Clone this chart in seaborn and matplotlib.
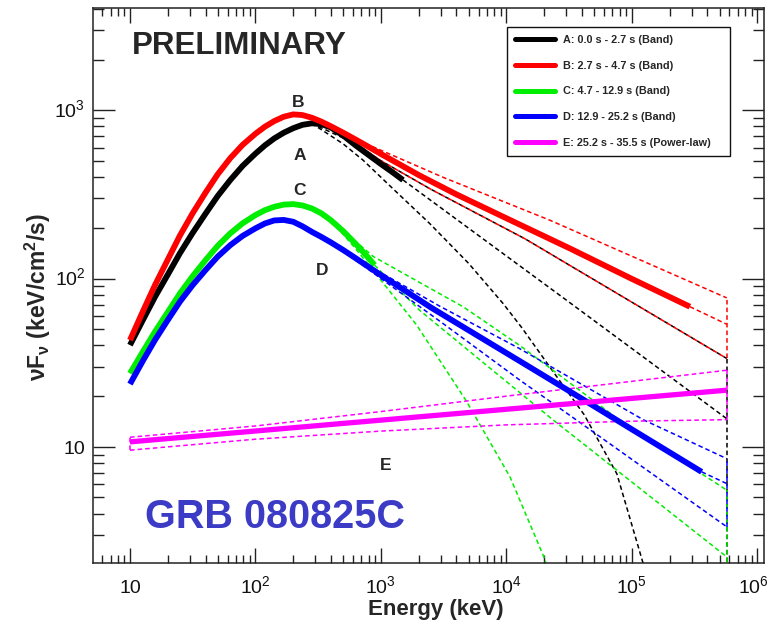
import matplotlib
matplotlib.use("Agg")
import matplotlib.pyplot as plt
import matplotlib.transforms as mtransforms
from matplotlib.lines import Line2D
from matplotlib.ticker import LogLocator, NullFormatter, FixedLocator
import pandas as pd
import seaborn as sns

# ---------------------------------------------------------------------------
# GRB 080825C time-resolved nuFnu spectra (energy in keV, flux in keV/cm^2/s)
# ---------------------------------------------------------------------------
# A: 0.0 s - 2.7 s (Band)
A_energy = [10, 12.6, 15.8, 20, 25, 31.6, 40, 50, 63, 79, 100, 119, 141, 168,
            200, 237, 282, 335, 398, 501, 631, 794, 1000, 1230, 1500]
A_flux = [40.2, 56.2, 77.6, 105.4, 141.3, 186.6, 242.7, 309, 384.6, 466.7,
          552, 618, 679, 734.5, 781.6, 818.5, 835.6, 826, 790.7, 706.3, 616.6,
          543.3, 478.6, 429.5, 384.6]

# B: 2.7 s - 4.7 s (Band)
B_energy = [10, 12.6, 15.8, 20, 25, 31.6, 40, 50, 63, 79, 100, 119, 141, 168,
            200, 237, 282, 335, 398, 501, 631, 794, 1000, 2000, 4000, 1e4,
            3.2e4, 1e5, 2.9e5]
B_flux = [43.05, 63.2, 91.2, 129.4, 179.9, 244.3, 323.6, 415.9, 518.8, 622.3,
          724.4, 798, 861, 914.1, 944.1, 935.4, 901.6, 855.1, 803.5, 734.5,
          668.3, 606.7, 549.5, 412, 316, 228, 151, 99.5, 68]

# C: 4.7 - 12.9 s (Band)
C_energy = [10, 12.6, 15.8, 20, 25, 31.6, 40, 50, 63, 79, 100, 119, 141, 168,
            200, 237, 282, 335, 398, 501, 631, 750, 890]
C_flux = [27.3, 36.5, 48.2, 63.1, 81.5, 103.3, 128.5, 156.3, 185.4, 212.8,
          238.2, 254.7, 266.7, 274.8, 276.7, 271.6, 260.6, 243.8, 222.3, 191,
          160.3, 139.3, 120.2]

# D: 12.9 - 25.2 s (Band)
D_energy = [10, 12.6, 15.8, 20, 25, 31.6, 40, 50, 63, 79, 100, 119, 141, 168,
            200, 237, 282, 335, 398, 501, 631, 794, 1000, 1600, 2500, 6300,
            1.6e4, 4e4, 1e5, 3.6e5]
D_flux = [23.6, 32.2, 43.05, 56.6, 72.8, 91.4, 112.2, 134.9, 157.8, 179.1,
          198.6, 212.3, 221.3, 222.8, 217.3, 204.2, 189.2, 176.6, 164.1, 147.6,
          131.8, 117.5, 104.7, 83.6, 67.3, 44.4, 29.2, 19.3, 12.7, 7.1]

# E: 25.2 s - 35.5 s (Power-law)
E_energy = [10, 5.7e5]
E_flux = [10.7, 21.7]

# Model extrapolations and 1-sigma contours (dashed)
A_ext_energy = [1500, 3.16e4, 5.7e5]
A_ext_flux = [385, 72.4, 14.7]
A_hi_energy = [280, 630, 1000, 2500, 1.41e4, 5.7e5]
A_hi_flux = [836, 631, 501, 339, 172, 33.5]
A_lo_energy = [280, 500, 720, 1260, 2450, 5000, 9400, 1.32e4, 2.24e4,
               4.17e4, 7.59e4, 1.23e5, 1.35e5]
A_lo_flux = [836, 631, 505, 339, 212, 123, 71.1, 51.3, 29.5, 15.5, 6.92,
             2.03, 1.41]

B_ext_energy = [2.9e5, 5.7e5]
B_ext_flux = [68, 53.5]
B_hi_energy = [400, 710, 3160, 2.22e4, 5.7e5]
B_hi_flux = [804, 646, 398, 222, 76.7]
B_lo_energy = [400, 1000, 2500, 1.41e4, 5.7e5]
B_lo_flux = [804, 501, 339, 172, 33.5]

C_ext_energy = [890, 2040, 2.34e4, 5.7e5]
C_ext_flux = [120, 64.6, 14.5, 2.22]
C_hi_energy = [400, 870, 4570, 1.29e4, 7.59e4, 5.7e5]
C_hi_flux = [222, 135, 67.6, 39.8, 14.8, 5.53]
C_lo_energy = [400, 630, 1000, 1920, 4820, 1.07e4, 2.03e4, 2.24e4]
C_lo_flux = [222, 150, 97.7, 53.1, 18.6, 6.61, 2.14, 1.58]

D_ext_energy = [3.6e5, 5.7e5]
D_ext_flux = [7.1, 6.05]
D_hi_energy = [400, 720, 2950, 1.26e4, 1.23e5, 5.7e5]
D_hi_flux = [164, 124.5, 68.4, 38.5, 14.5, 8.51]
D_lo_energy = [400, 1000, 3160, 1.28e4, 3.63e4, 5.7e5]
D_lo_flux = [164, 100, 53.7, 24.9, 14.4, 3.35]

E_hi_energy = [10, 100, 1000, 1e4, 1e5, 5.7e5]
E_hi_flux = [11.4, 13.3, 16.2, 20.0, 24.5, 28.5]
E_lo_energy = [10, 100, 1000, 1e4, 1e5, 5.7e5]
E_lo_flux = [9.55, 11.1, 12.4, 13.5, 14.2, 14.5]

# Closing edges of the contours at the extrapolation limit
edge_energy = 5.7e5
A_edge_flux = [1.5, 33.5]
C_edge_flux = [1.5, 5.53]
D_edge_flux = [3.35, 8.51]
B_edge_flux = [33.5, 76.7]
E_edge_flux = [14.5, 28.5]
E_start_edge = [9.55, 11.4]

legend_labels = ["A: 0.0 s - 2.7 s (Band)", "B: 2.7 s - 4.7 s (Band)",
                 "C: 4.7 - 12.9 s (Band)", "D: 12.9 - 25.2 s (Band)",
                 "E: 25.2 s - 35.5 s (Power-law)"]
colors = {"A": "#000000", "B": "#ff0000", "C": "#00ee00", "D": "#0000ff",
          "E": "#ff00ff"}

x_ticks = [10, 1e2, 1e3, 1e4, 1e5, 1e6]
x_tick_labels = ["10", r"10$^{2}$", r"10$^{3}$", r"10$^{4}$", r"10$^{5}$",
                 r"10$^{6}$"]
y_ticks = [10, 1e2, 1e3]
y_tick_labels = ["10", r"10$^{2}$", r"10$^{3}$"]

# ---------------------------------------------------------------------------
sns.set_theme(style="ticks")
plt.rcParams["font.family"] = ["Liberation Sans", "DejaVu Sans"]
plt.rcParams["mathtext.fontset"] = "custom"
plt.rcParams["mathtext.rm"] = "Liberation Sans"
plt.rcParams["mathtext.it"] = "Liberation Sans:italic"
plt.rcParams["mathtext.bf"] = "Liberation Sans:bold"

fig = plt.figure(figsize=(7.71, 6.29), dpi=100)
ax = fig.add_axes([0.121, 0.1049, 0.8699, 0.8819])
ax.set_xscale("log")
ax.set_yscale("log")

DASH = (0, (3, 2))


def curve(energy, flux, color, lw, style="-"):
    df = pd.DataFrame({"Energy": energy, "Flux": flux})
    sns.lineplot(data=df, x="Energy", y="Flux", ax=ax, color=color, lw=lw,
                 linestyle=style, sort=False, estimator=None,
                 solid_capstyle="butt", dash_capstyle="butt",
                 solid_joinstyle="round")


def edge(energy, flux_pair, color):
    curve([energy, energy], flux_pair, color, 1.1, DASH)


# dashed contours
edge(edge_energy, A_edge_flux, colors["A"])
edge(edge_energy, C_edge_flux, colors["C"])
edge(edge_energy, D_edge_flux, colors["D"])
edge(edge_energy, B_edge_flux, colors["B"])
edge(edge_energy, E_edge_flux, colors["E"])
edge(10, E_start_edge, colors["E"])

for key, lines in {
    "A": [(A_ext_energy, A_ext_flux), (A_hi_energy, A_hi_flux),
          (A_lo_energy, A_lo_flux)],
    "C": [(C_ext_energy, C_ext_flux), (C_hi_energy, C_hi_flux),
          (C_lo_energy, C_lo_flux)],
    "D": [(D_ext_energy, D_ext_flux), (D_hi_energy, D_hi_flux),
          (D_lo_energy, D_lo_flux)],
    "B": [(B_ext_energy, B_ext_flux), (B_hi_energy, B_hi_flux),
          (B_lo_energy, B_lo_flux)],
    "E": [(E_hi_energy, E_hi_flux), (E_lo_energy, E_lo_flux)],
}.items():
    for en, fl in lines:
        curve(en, fl, colors[key], 1.1, DASH)

# best-fit spectra
curve(A_energy, A_flux, colors["A"], 4.2)
curve(C_energy, C_flux, colors["C"], 4.2)
curve(D_energy, D_flux, colors["D"], 4.2)
curve(B_energy, B_flux, colors["B"], 4.2)
curve(E_energy, E_flux, colors["E"], 3.8)

ax.set_xlim(5.1, 1.13e6)
ax.set_ylim(2.04, 4030)

# axes frame and ticks
for sp in ax.spines.values():
    sp.set_linewidth(1.1)
    sp.set_color("#222222")
    sp.set_visible(True)
ax.xaxis.set_major_locator(FixedLocator(x_ticks))
ax.yaxis.set_major_locator(FixedLocator(y_ticks))
ax.xaxis.set_minor_locator(LogLocator(base=10, subs=range(2, 10), numticks=20))
ax.yaxis.set_minor_locator(LogLocator(base=10, subs=range(2, 10), numticks=20))
ax.xaxis.set_major_formatter(NullFormatter())
ax.xaxis.set_minor_formatter(NullFormatter())
ax.yaxis.set_major_formatter(NullFormatter())
ax.yaxis.set_minor_formatter(NullFormatter())
ax.tick_params(which="both", direction="in", top=True, right=True,
               color="#222222", width=1.0)
ax.tick_params(axis="x", which="major", length=11)
ax.tick_params(axis="x", which="minor", length=6)
ax.tick_params(axis="y", which="major", length=15.5)
ax.tick_params(axis="y", which="minor", length=8)

# tick labels placed on a common baseline
xtrans = mtransforms.blended_transform_factory(ax.transData, ax.transAxes)
for i, (val, lab) in enumerate(zip(x_ticks, x_tick_labels)):
    shift = -4 if i == len(x_ticks) - 1 else 0
    off = mtransforms.ScaledTranslation(shift / fig.dpi, -30 / fig.dpi,
                                        fig.dpi_scale_trans)
    ax.text(val, 0, lab, transform=xtrans + off, ha="center", va="baseline",
            fontsize=14, color="#111111", clip_on=False)
yoff = mtransforms.ScaledTranslation(-8 / fig.dpi, -7 / fig.dpi,
                                     fig.dpi_scale_trans)
ytrans = mtransforms.blended_transform_factory(ax.transAxes, ax.transData) + yoff
for val, lab in zip(y_ticks, y_tick_labels):
    ax.text(0, val, lab, transform=ytrans, ha="right", va="baseline",
            fontsize=14, color="#111111", clip_on=False)

ax.set_xlabel("Energy (keV)", fontsize=16, fontweight="bold", va="center")
ax.xaxis.set_label_coords(0.511, -0.084)
ax.set_ylabel(r"$\mathbf{\nu F_{\nu}}$ (keV/cm$^{\mathbf{2}}$/s)", fontsize=16.5,
              fontweight="bold", va="center")
ax.yaxis.set_label_coords(-0.0825, 0.48)

# annotations
ax.text(0.057, 0.932, "PRELIMINARY", transform=ax.transAxes, fontsize=22.5,
        fontweight="bold", ha="left", va="center")
ax.text(0.077, 0.083, "GRB 080825C", transform=ax.transAxes, fontsize=28.5,
        fontweight="bold", color="#3b3bc6", ha="left", va="center")
for lab, (xe, yf) in {"B": (218, 1117), "A": (226, 541), "C": (226, 335),
                      "D": (339, 112), "E": (1096, 7.78)}.items():
    ax.text(xe, yf, lab, fontsize=12.5, fontweight="bold", ha="center",
            va="center")

# legend
handles = [Line2D([0], [0], color=colors[k], lw=3.6) for k in "ABCDE"]
leg = ax.legend(handles, legend_labels, loc="upper left",
                bbox_to_anchor=(0.6168, 0.7229, 0.3325, 0.2434), mode="expand",
                frameon=True, fancybox=False, edgecolor="#111111",
                framealpha=1.0, prop={"weight": "bold", "size": 7.8},
                handlelength=3.7, handletextpad=0.75, labelspacing=1.44,
                borderpad=0.75, borderaxespad=0.0)
leg.get_frame().set_linewidth(1.0)

fig.savefig("out.png", dpi=100)
